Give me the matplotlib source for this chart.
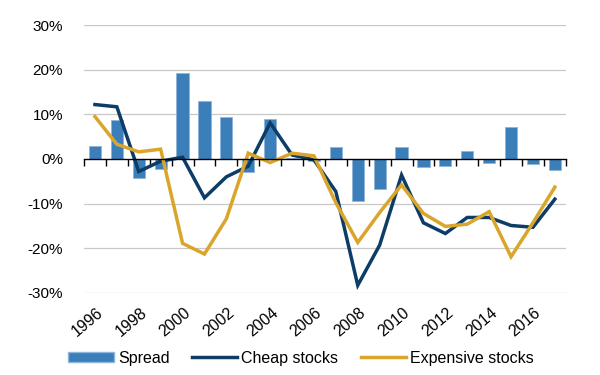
import matplotlib.pyplot as plt
import matplotlib.transforms as mtransforms
from matplotlib.patches import Patch
from matplotlib.lines import Line2D
import numpy as np

# values (percent)
years = list(range(1996, 2018))
spread = [2.9, 8.7, -4.2, -2.3, 19.3, 12.9, 9.4, -2.9, 9.0, 0.2, -0.5,
          2.6, -9.4, -6.8, 2.7, -1.8, -1.5, 1.8, -1.0, 7.2, -1.2, -2.5]
cheap = [12.2, 11.7, -2.8, -0.5, 0.4, -8.7, -4.0, -1.6, 8.1, 0.9, -0.2,
         -7.3, -28.3, -19.3, -3.6, -14.3, -16.7, -13.1, -13.1, -14.9, -15.3, -9.0]
expensive = [9.5, 3.3, 1.6, 2.2, -18.9, -21.3, -13.4, 1.3, -0.8, 1.3, 0.7,
             -9.8, -18.7, -12.0, -5.8, -12.2, -15.1, -14.6, -11.8, -21.9, -14.3, -6.3]
yticks = [-30, -20, -10, 0, 10, 20, 30]

bar_color = '#3b7fba'
cheap_color = '#0d3d66'
exp_color = '#d9a62b'

plt.rcParams['font.family'] = ['Liberation Sans', 'DejaVu Sans']

fig = plt.figure(figsize=(6, 3.75), dpi=100)
ax = fig.add_axes([0.14, 0.219, 0.803, 0.714])

x = np.arange(len(years))
ax.bar(x, spread, width=0.56, color=bar_color, edgecolor='#8fb5d8',
       linewidth=0.6, zorder=2)
ax.plot(x, cheap, color=cheap_color, lw=2.5, zorder=3, solid_joinstyle='miter')
ax.plot(x, expensive, color=exp_color, lw=2.5, zorder=4, solid_joinstyle='miter')

ax.set_xlim(-0.5, len(years) - 0.5)
ax.set_ylim(-30, 30)
ax.set_yticks(yticks)
ax.set_yticklabels([f'{v}%' for v in yticks], fontsize=11)
ax.tick_params(axis='y', length=0, pad=15)
for v in yticks:
    if v != 0:
        ax.axhline(v, color='#c8c8c8', lw=0.9, zorder=0)

# x axis drawn at zero with ticks between categories
for s in ['top', 'right', 'left']:
    ax.spines[s].set_visible(False)
ax.spines['bottom'].set_position(('data', 0))
ax.spines['bottom'].set_color('black')
ax.spines['bottom'].set_linewidth(1.0)
ax.spines['bottom'].set_zorder(5)
ax.set_xticks(np.arange(len(years) + 1) - 0.5)
ax.set_xticklabels([])
ax.tick_params(axis='x', direction='out', length=5, width=1.0, color='black')

# year labels at the bottom of the plot, every second year
trans = mtransforms.blended_transform_factory(ax.transData, ax.transAxes)
for i, yr in enumerate(years):
    if i % 2 == 0:
        ax.text(i + 0.05, -0.045, str(yr), transform=trans, rotation=40,
                rotation_mode='anchor', ha='right', va='top', fontsize=11.5)

handles = [Patch(facecolor=bar_color, edgecolor='#8fb5d8'),
           Line2D([0], [0], color=cheap_color, lw=2.5),
           Line2D([0], [0], color=exp_color, lw=2.5)]
fig.legend(handles, ['Spread', 'Cheap stocks', 'Expensive stocks'],
           loc='center', bbox_to_anchor=(0.502, 0.045), ncol=3, frameon=False,
           fontsize=11.5, handlelength=2.85, handleheight=0.6, handletextpad=0.25,
           columnspacing=1.4)

fig.savefig('out.png', dpi=100)
